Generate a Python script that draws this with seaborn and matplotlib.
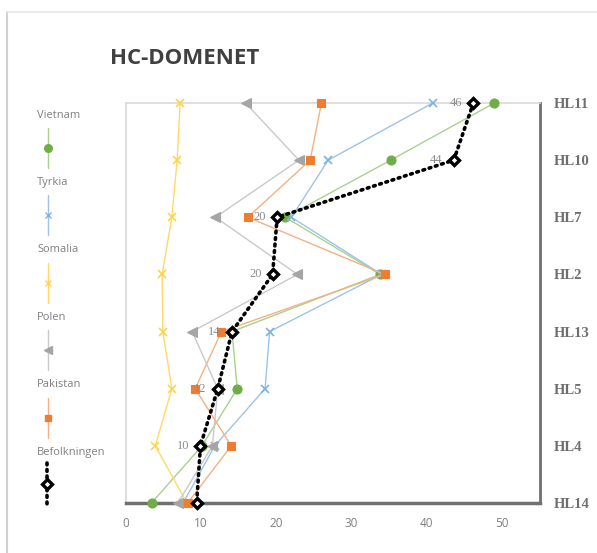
import numpy as np
import pandas as pd
import matplotlib
matplotlib.use("Agg")
import matplotlib.pyplot as plt
from matplotlib.lines import Line2D
import seaborn as sns

# Categories, top to bottom
categories = ["HL11", "HL10", "HL7", "HL2", "HL13", "HL5", "HL4", "HL14"]

vietnam = [49, 35.2, 21.2, 33.8, 14.1, 14.8, 10.1, 3.4]
tyrkia = [40.8, 26.9, 22.0, 34.0, 19.1, 18.5, 11.8, 7.6]
somalia = [7.2, 6.8, 6.1, 4.8, 4.9, 6.1, 3.9, 8.1]
polen = [15.9, 23.0, 11.9, 22.8, 8.8, 12.2, 11.5, 6.9]
pakistan = [26.0, 24.5, 16.2, 34.4, 12.7, 9.2, 14.0, 8.2]
befolkningen = [46.2, 43.6, 20.1, 19.5, 14.1, 12.2, 9.9, 9.4]
befolkningen_labelled = [True, True, True, True, True, True, True, False]

x_ticks = [0, 10, 20, 30, 40, 50]

series = [
    ("Vietnam", vietnam, "#A9D18E", "#70AD47", "o", 6.5, 1.0),
    ("Tyrkia", tyrkia, "#9DC3E6", "#7FB1E0", "x", 6.0, 1.0),
    ("Somalia", somalia, "#FFD966", "#FFD34D", "x", 6.0, 1.0),
    ("Polen", polen, "#C9C9C9", "#A5A5A5", "<", 6.5, 1.0),
    ("Pakistan", pakistan, "#F4B183", "#ED7D31", "s", 6.0, 1.0),
]

sns.set_theme(style="white")
plt.rcParams["font.family"] = ["Open Sans", "DejaVu Sans"]

W, H = 597, 553
fig = plt.figure(figsize=(W / 100, H / 100), dpi=100)

# main plotting area, in pixel terms
left_px, right_px, top_px, bottom_px = 126, 539.5, 103, 503
ax = fig.add_axes([left_px / W, 1 - bottom_px / H,
                   (right_px - left_px) / W, (bottom_px - top_px) / H])

ypos = np.arange(len(categories))[::-1]  # HL11 at top (7), HL14 at bottom (0)

for name, vals, lc, mc, mk, ms, lw in series:
    df = pd.DataFrame({"value": vals, "pos": ypos})
    sns.lineplot(data=df, x="value", y="pos", sort=False, estimator=None,
                 ax=ax, color=lc, linewidth=lw, marker=mk, markersize=ms,
                 markerfacecolor=mc, markeredgecolor=mc,
                 markeredgewidth=1.2 if mk == "x" else 0.8, zorder=3,
                 clip_on=False)

dfb = pd.DataFrame({"value": befolkningen, "pos": ypos})
sns.lineplot(data=dfb, x="value", y="pos", sort=False, estimator=None, ax=ax,
             color="black", linewidth=2.6, linestyle=(0, (0.5, 1.3)),
             dash_capstyle="round", marker="D", markersize=5.2,
             markerfacecolor="white", markeredgecolor="black",
             markeredgewidth=2.4, zorder=5, clip_on=False)

for v, p, show in zip(befolkningen, ypos, befolkningen_labelled):
    if show:
        ax.annotate(f"{v:.0f}", (v, p), xytext=(-8, 0), textcoords="offset points",
                    ha="right", va="center", fontsize=9, color="#8C8C8C",
                    family=["Liberation Serif", "DejaVu Serif"], zorder=6)

ax.set_xlim(0, 55)
ax.set_ylim(0, 7)
ax.set_xticks(x_ticks)
ax.set_xticklabels([str(t) for t in x_ticks], color="#7F7F7F", fontsize=8.5)
ax.set_yticks(ypos)
ax.set_yticklabels(categories, family=["Liberation Serif", "DejaVu Serif"],
                   fontweight="bold", fontsize=10.5, color="#6E6E6E")
ax.yaxis.tick_right()
ax.tick_params(axis="y", length=0, pad=10)
ax.tick_params(axis="x", length=0, pad=10)
ax.set_xlabel("")
ax.set_ylabel("")
ax.grid(False)

for side in ["left", "top"]:
    ax.spines[side].set_color("#D9D9D9")
    ax.spines[side].set_linewidth(1.2)
ax.spines["bottom"].set_color("#707070")
ax.spines["bottom"].set_linewidth(2.5)
ax.spines["right"].set_color("#707070")
ax.spines["right"].set_linewidth(2.0)

# title
fig.text(110 / W, 1 - 58 / H, "HC-DOMENET", fontsize=16, fontweight="bold",
         color="#404040", ha="left", va="center")

# legend column with vertical key samples
lax = fig.add_axes([0, 0, 1, 1], facecolor="none")
lax.set_xlim(0, W)
lax.set_ylim(H, 0)
lax.axis("off")
legend_entries = series + [("Befolkningen", befolkningen, "black", "black", "D", 5.0, 0)]
for i, (name, _, lc, mc, mk, ms, lw) in enumerate(legend_entries):
    y0 = 115 + i * 67.4
    lax.text(37, y0, name, fontsize=8, color="#7F7F7F", ha="left", va="center")
    if name == "Befolkningen":
        lax.add_line(Line2D([47, 47], [y0 + 11, y0 + 52], color="black",
                            linewidth=2.6, linestyle=(0, (0.5, 1.3)),
                            dash_capstyle="round"))
        lax.add_line(Line2D([47], [y0 + 32], marker="D", markersize=5,
                            markerfacecolor="white", markeredgecolor="black",
                            markeredgewidth=2.4))
    else:
        lax.add_line(Line2D([48, 48], [y0 + 13, y0 + 53], color=lc, linewidth=1.0))
        lax.add_line(Line2D([48], [y0 + 33], marker=mk, markersize=ms - 1,
                            markerfacecolor=mc, markeredgecolor=mc,
                            markeredgewidth=1.0))

# outer frame
lax.add_line(Line2D([7, 7], [12, 553], color="#D0D0D0", linewidth=1.5))
lax.add_line(Line2D([7, 597], [12, 12], color="#E6E6E6", linewidth=1.2))

fig.savefig("out.png", dpi=100, facecolor="white")
